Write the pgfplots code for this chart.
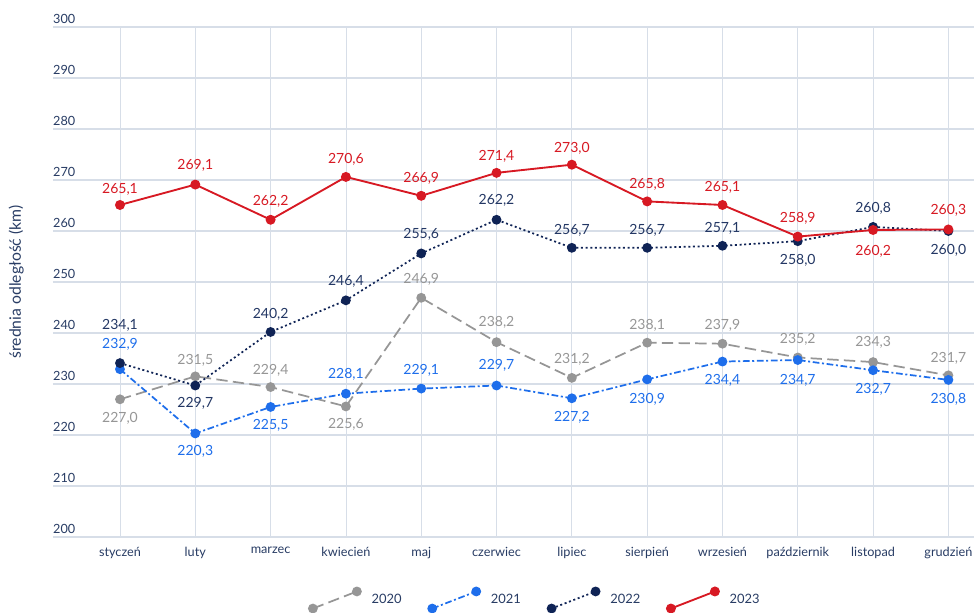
\documentclass[border=0pt]{standalone}
\usepackage{fontspec}
\setmainfont{Lato}
\usepackage{pgfplots}
\pgfplotsset{compat=1.18}
\usepackage{pgfplotstable}
\definecolor{c20}{RGB}{150,150,150}
\definecolor{c21}{RGB}{30,110,235}
\definecolor{c22}{RGB}{15,35,85}
\definecolor{l22}{RGB}{35,55,100}
\definecolor{c23}{RGB}{215,25,35}
\definecolor{tnavy}{RGB}{40,60,100}
\definecolor{gridc}{RGB}{215,222,232}
\pgfplotstableread{
x y s
0 227.0 -19
1 231.5 16
2 229.4 17
3 225.6 -18
4 246.9 18
5 238.2 20
6 231.2 18
7 238.1 17
8 237.9 18
9 235.2 18
10 234.3 20
11 231.7 17
}\dA
\pgfplotstableread{
x y s
0 232.9 25
1 220.3 -18
2 225.5 -18
3 228.1 19
4 229.1 18
5 229.7 20
6 227.2 -19
7 230.9 -20
8 234.4 -19
9 234.7 -20
10 232.7 -19
11 230.8 -19
}\dB
\pgfplotstableread{
x y s
0 234.1 38
1 229.7 -18
2 240.2 18
3 246.4 19
4 255.6 19
5 262.2 19
6 256.7 17
7 256.7 17
8 257.1 17
9 258.0 -19
10 260.8 19
11 260.0 -19
}\dC
\pgfplotstableread{
x y s
0 265.1 16
1 269.1 19
2 262.2 18
3 270.6 18
4 266.9 17
5 271.4 16
6 273.0 16
7 265.8 17
8 265.1 18
9 258.9 18
10 260.2 -21
11 260.3 19
}\dD
\begin{document}
\begin{tikzpicture}
\begin{axis}[
  scale only axis, width=690.75pt, height=382.5pt,
  xmin=-0.89, xmax=11.34, ymin=200, ymax=300,
  clip=false,
  xtick={0,...,11},
  xticklabels={styczeń,luty,marzec,kwiecień,maj,czerwiec,lipiec,sierpień,wrzesień,październik,listopad,grudzień},
  ytick={200,210,...,300},
  /pgf/number format/assume math mode=true,
  xmajorgrids, ymajorgrids,
  major x grid style={draw=gridc, line width=0.6pt},
  major y grid style={draw=gridc, line width=1pt},
  axis line style={draw=none},
  major tick length=0pt,
  tick label style={font=\fontsize{9.5}{11}\selectfont, text=tnavy},
  yticklabel style={anchor=south west, inner sep=0pt, xshift=0pt, yshift=2pt},
  xticklabel style={anchor=north, yshift=-4pt},
  ylabel={średnia odległość (km)},
  ylabel style={at={(rel axis cs:-0.0400,0.5)}, anchor=center, font=\fontsize{11.8}{13}\selectfont, text=tnavy},
  legend columns=4,
  legend style={at={(rel axis cs:0.524,-0.1235)}, anchor=center, draw=none, fill=none,
    font=\fontsize{9.7}{12}\selectfont, text=tnavy,
    /tikz/every even column/.append style={column sep=18pt},
    /tikz/every odd column/.append style={column sep=6pt}},
  legend image code/.code={\draw[mark repeat=1,mark phase=1,#1] plot coordinates {(0pt,-6.4pt) (33pt,6.4pt)};},
  nodes near coords={\pgfmathprintnumber[fixed,fixed zerofill,precision=1,use comma,assume math mode=true]{\pgfplotspointmeta}},
  visualization depends on={\thisrow{s}\as\sh},
  every node near coord/.append style={anchor=center, yshift=\sh*0.75pt, font=\fontsize{10.5}{12}\selectfont, inner sep=0pt},
  after end axis/.code={
    \coordinate (bl) at (rel axis cs:-0.0575,-0.149);
    \coordinate (tr) at (rel axis cs:1,1.0529);
  },
]
\addplot[c20, line width=1.3pt, dash pattern=on 8.5pt off 4pt, mark=*, mark size=3pt, mark options={solid, fill=c20, draw=c20},
  every node near coord/.append style={text=c20}] table[x=x,y=y] {\dA};
\addlegendentry{2020}
\addplot[c21, line width=1.3pt, dash pattern=on 5pt off 2pt on 1.5pt off 2pt, mark=*, mark size=3pt, mark options={solid, fill=c21, draw=c21},
  every node near coord/.append style={text=c21}] table[x=x,y=y] {\dB};
\addlegendentry{2021}
\addplot[c22, line width=1.3pt, dash pattern=on 1.5pt off 2pt, mark=*, mark size=3pt, mark options={solid, fill=c22, draw=c22},
  every node near coord/.append style={text=l22}] table[x=x,y=y] {\dC};
\addlegendentry{2022}
\addplot[c23, line width=1.4pt, mark=*, mark size=3pt, mark options={solid, fill=c23, draw=c23},
  every node near coord/.append style={text=c23}] table[x=x,y=y] {\dD};
\addlegendentry{2023}
\end{axis}
\pgfresetboundingbox
\path[use as bounding box] (bl) rectangle (tr);
\end{tikzpicture}
\end{document}
